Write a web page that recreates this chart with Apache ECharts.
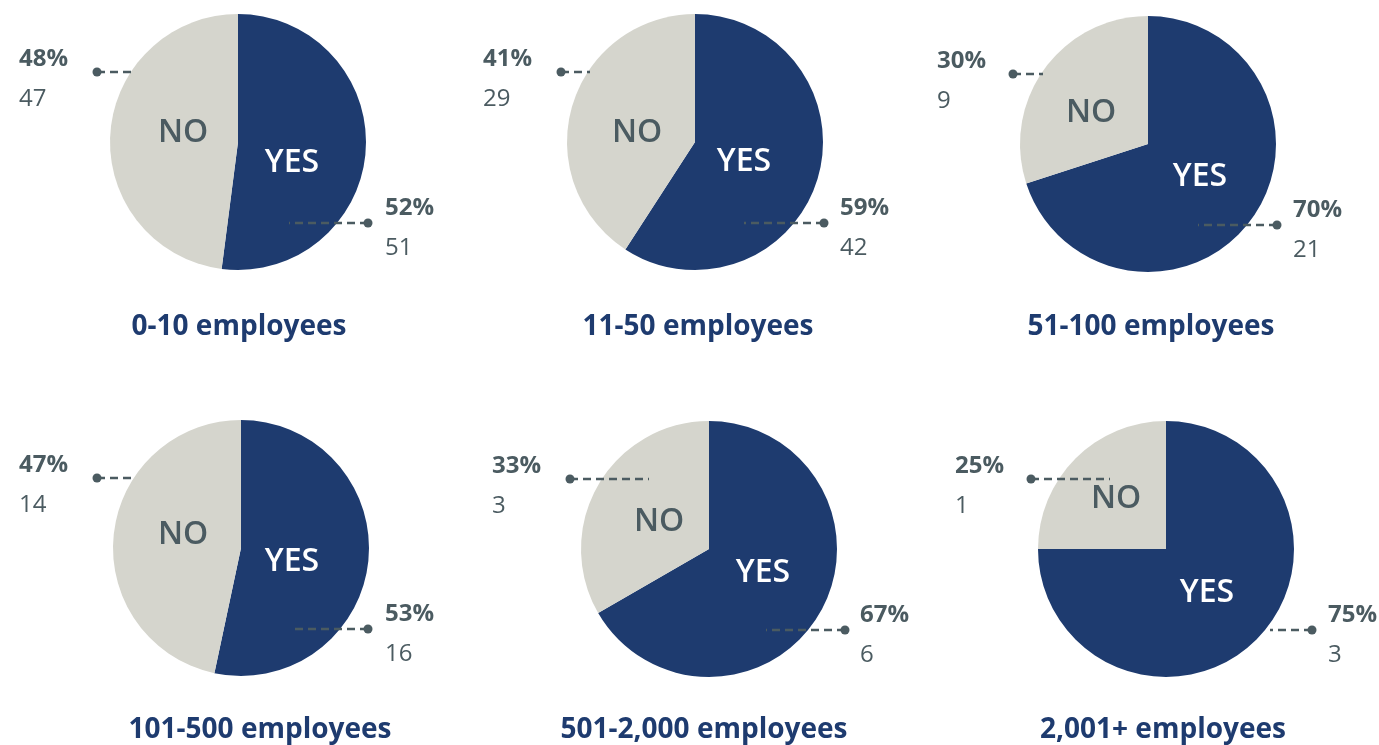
<!DOCTYPE html>
<html lang="en">
<head>
<meta charset="utf-8">
<title>Yes / No by company size</title>
<script src="https://cdn.jsdelivr.net/npm/echarts@6/dist/echarts.min.js"></script>
<style>
    html, body { margin: 0; background: #fff; }
    #main { width: 1379px; height: 745px; }
</style>
</head>
<body>
<div id="main"></div>
<script>
    var groups = ['0-10 employees', '11-50 employees', '51-100 employees',
                  '101-500 employees', '501-2,000 employees', '2,001+ employees'];
    var yesCounts = [51, 42, 21, 16, 6, 3];
    var noCounts = [47, 29, 9, 14, 3, 1];

    var NAVY = '#1e3b6f', STONE = '#d5d5cd', INK = '#4b5b61';
    var FONT = '"Open Sans", "DejaVu Sans", sans-serif';

    // where each pie sits and where its labels / callouts go (px, relative to the centre)
    var pies = [
        {c: [238, 142], title: 239, inNo: [-55, -9], inYes: [54, 21],
         no: {dot: -141, end: -105, text: -219}, yes: {dot: 130, end: 51, text: 147}},
        {c: [695, 142], title: 698, inNo: [-58, -9], inYes: [49, 20],
         no: {dot: -134, end: -105, text: -212}, yes: {dot: 129, end: 49, text: 145}},
        {c: [1148, 144], title: 1151, inNo: [-57, -31], inYes: [52, 33],
         no: {dot: -135, end: -105, text: -211}, yes: {dot: 129, end: 50, text: 145}},
        {c: [241, 548], title: 260, inNo: [-58, -13], inYes: [51, 14],
         no: {dot: -144, end: -108, text: -222}, yes: {dot: 127, end: 49, text: 144}},
        {c: [709, 549], title: 704, inNo: [-50, -27], inYes: [54, 24],
         no: {dot: -139, end: -60, text: -217}, yes: {dot: 136, end: 57, text: 151}},
        {c: [1166, 549], title: 1163, inNo: [-50, -50], inYes: [41, 44],
         no: {dot: -135, end: -56, text: -211}, yes: {dot: 146, end: 104, text: 162}}
    ];
    var titleY = [327, 327, 327, 730, 730, 730];
    var RADIUS = 128;

    function pieData(i) {
        return [
            {name: 'YES', value: yesCounts[i]},
            {name: 'NO', value: noCounts[i]}
        ];
    }

    var series = [];
    var graphics = [];
    pies.forEach(function (p, i) {
        var cx = p.c[0], cy = p.c[1];
        var base = {
            type: 'pie', center: p.c, radius: RADIUS, startAngle: 90,
            silent: true, animation: false, avoidLabelOverlap: false,
            percentPrecision: 0, emphasis: {disabled: true}
        };

        // the slices with YES / NO inside
        series.push(Object.assign({}, base, {
            data: pieData(i).map(function (d, k) {
                return {
                    name: d.name, value: d.value,
                    itemStyle: {color: k === 0 ? NAVY : STONE},
                    label: {color: k === 0 ? '#fff' : INK}
                };
            }),
            label: {position: 'inside', formatter: '{b}', fontSize: 32, fontWeight: 600, fontFamily: FONT},
            labelLine: {show: false},
            labelLayout: function (params) {
                var off = params.dataIndex === 0 ? p.inYes : p.inNo;
                return {x: cx + off[0], y: cy + off[1], align: 'center', verticalAlign: 'middle'};
            }
        }));

        // percent + count
        series.push(Object.assign({}, base, {
            data: pieData(i),
            itemStyle: {color: 'rgba(0,0,0,0)'},
            label: {
                position: 'outside',
                formatter: '{p|{d}%}\n{n|{c}}',
                rich: {
                    p: {fontSize: 24, fontWeight: 'bold', color: INK, fontFamily: FONT, lineHeight: 40},
                    n: {fontSize: 24, color: INK, fontFamily: FONT, lineHeight: 40}
                }
            },
            labelLine: {show: false},
            labelLayout: function (params) {
                var yes = params.dataIndex === 0;
                var s = yes ? p.yes : p.no;
                return {x: cx + s.text, y: cy + (yes ? 86 : -63), align: 'left', verticalAlign: 'middle'};
            }
        }));

        // dashed leaders with a dot on the end
        [[p.no, -70], [p.yes, 81]].forEach(function (side) {
            var s = side[0], y = cy + side[1];
            graphics.push({
                type: 'line', z: 100, silent: true,
                shape: {x1: cx + s.dot, y1: y, x2: cx + s.end, y2: y},
                style: {stroke: INK, lineWidth: 2.5, lineDash: [8, 5]}
            });
            graphics.push({
                type: 'circle', z: 101, silent: true,
                shape: {cx: cx + s.dot, cy: y, r: 4.5},
                style: {fill: INK}
            });
        });
    });

    var myChart = echarts.init(document.getElementById('main'));
    myChart.setOption({
        backgroundColor: '#fff',
        title: pies.map(function (p, i) {
            return {
                text: groups[i], left: p.title, top: titleY[i], padding: 0,
                textAlign: 'center', textVerticalAlign: 'middle',
                textStyle: {fontSize: 28, fontWeight: 'bold', color: NAVY, fontFamily: FONT}
            };
        }),
        series: series,
        graphic: graphics
    });
</script>
</body>
</html>
